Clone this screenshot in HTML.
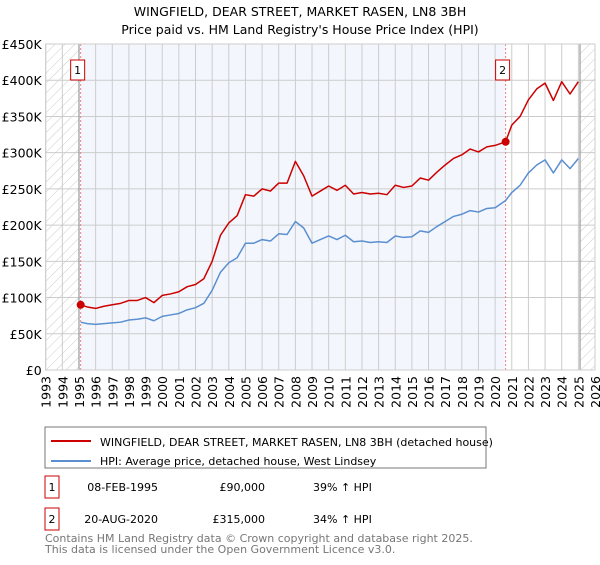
<!DOCTYPE html>
<html><head><meta charset="utf-8"><style>
body{margin:0;background:#fff;font-family:"Liberation Sans","DejaVu Sans",sans-serif;}
svg text{font-family:"DejaVu Sans","Liberation Sans",sans-serif;}
</style></head><body>
<svg id="c" width="600" height="560" viewBox="0 0 600 560" xmlns="http://www.w3.org/2000/svg">
<defs><pattern id="h" width="7" height="7" patternUnits="userSpaceOnUse" patternTransform="rotate(45)"><line x1="0" y1="0" x2="0" y2="7" stroke="#ccc" stroke-width="1"/></pattern></defs>
<text x="300" y="16" text-anchor="middle" font-size="12.5">WINGFIELD, DEAR STREET, MARKET RASEN, LN8 3BH</text>
<text x="300" y="34" text-anchor="middle" font-size="12.5">Price paid vs. HM Land Registry's House Price Index (HPI)</text>
<g id="plot"></g>
<rect x="45" y="427" width="441" height="41" fill="#fff" stroke="#777"/>
<line x1="51" y1="441" x2="91" y2="441" stroke="#cc0000" stroke-width="2"/>
<text x="100" y="446" font-size="11">WINGFIELD, DEAR STREET, MARKET RASEN, LN8 3BH (detached house)</text>
<line x1="51" y1="461" x2="91" y2="461" stroke="#5b8fd0" stroke-width="2"/>
<text x="100" y="465" font-size="11">HPI: Average price, detached house, West Lindsey</text>
<g font-size="11">
<rect x="45" y="476" width="14" height="22" fill="#fff" stroke="#cc0000"/>
<text x="52" y="491" text-anchor="middle">1</text>
<text x="158" y="491" text-anchor="end">08-FEB-1995</text>
<text x="265" y="491" text-anchor="end">£90,000</text>
<text x="313" y="491">39% ↑ HPI</text>
<rect x="45" y="508" width="14" height="22" fill="#fff" stroke="#cc0000"/>
<text x="52" y="523" text-anchor="middle">2</text>
<text x="158" y="523" text-anchor="end">20-AUG-2020</text>
<text x="265" y="523" text-anchor="end">£315,000</text>
<text x="313" y="523">34% ↑ HPI</text>
</g>
<text x="45" y="542" font-size="11" fill="#777">Contains HM Land Registry data © Crown copyright and database right 2025.</text>
<text x="45" y="553" font-size="11" fill="#777">This data is licensed under the Open Government Licence v3.0.</text>
</svg>
<script>
const yTicks=[0,50,100,150,200,250,300,350,400,450];
const yTickLabels=["£0","£50K","£100K","£150K","£200K","£250K","£300K","£350K","£400K","£450K"];
const years=[1993,1994,1995,1996,1997,1998,1999,2000,2001,2002,2003,2004,2005,2006,2007,2008,2009,2010,2011,2012,2013,2014,2015,2016,2017,2018,2019,2020,2021,2022,2023,2024,2025,2026];
const times=[1995.1,1995.5,1996,1996.5,1997,1997.5,1998,1998.5,1999,1999.5,2000,2000.5,2001,2001.5,2002,2002.5,2003,2003.5,2004,2004.5,2005,2005.5,2006,2006.5,2007,2007.5,2008,2008.5,2009,2009.5,2010,2010.5,2011,2011.5,2012,2012.5,2013,2013.5,2014,2014.5,2015,2015.5,2016,2016.5,2017,2017.5,2018,2018.5,2019,2019.5,2020,2020.63,2021,2021.5,2022,2022.5,2023,2023.5,2024,2024.5,2025];
const hpiValues=[66,64,63,64,65,66,69,70,72,68,74,76,78,83,86,92,110,135,148,155,175,175,180,178,188,187,205,196,175,180,185,180,186,177,178,176,177,176,185,183,184,192,190,198,205,212,215,220,218,223,224,234,245,255,272,283,290,272,290,278,292];
const priceValues=[90,87,85,88,90,92,96,96,100,93,103,105,108,115,118,126,150,186,203,213,242,240,250,247,258,258,288,268,240,247,254,248,255,243,245,243,244,242,255,252,254,265,262,273,283,292,297,305,301,308,310,315,338,350,373,388,396,372,398,381,398];
const sales=[{t:1995.1,v:90,n:"1"},{t:2020.63,v:315,n:"2"}];
const NS="http://www.w3.org/2000/svg";
const X0=45.7,X1=595,Y0=370,Y1=44;
const xs=t=>X0+(t-1993)*(X1-X0)/33;
const ys=v=>Y0-v*(Y0-Y1)/450;
const g=document.getElementById('plot');
function mk(tag,a){const e=document.createElementNS(NS,tag);for(const k in a)e.setAttribute(k,a[k]);g.appendChild(e);return e;}
let e;
e=mk('rect',{x:X0,y:Y1,width:X1-X0,height:Y0-Y1,fill:'#fff'});


e=mk('rect',{x:xs(1995.1),y:Y1,width:xs(2020.63)-xs(1995.1),height:Y0-Y1,fill:'#eef3fc',opacity:0.7});


e=mk('rect',{x:X0,y:Y1,width:xs(1995)-X0,height:Y0-Y1,fill:'url(#h)'});


e=mk('rect',{x:xs(2025.1),y:Y1,width:X1-xs(2025.1),height:Y0-Y1,fill:'url(#h)'});


yTicks.forEach((v,i)=>{
 e=mk('line',{x1:X0,x2:X1,y1:ys(v),y2:ys(v),stroke:'#ccc','stroke-width':1});
 
 
 e=mk('text',{x:X0-4,y:ys(v)+5,'text-anchor':'end','font-size':'12.5'});
 e.textContent=yTickLabels[i];
 
 
});
years.forEach(y=>{
 e=mk('line',{x1:xs(y),x2:xs(y),y1:Y1,y2:Y0,stroke:'#ccc','stroke-width':1});
 
 
 e=mk('text',{x:0,y:0,'font-size':'12.5','text-anchor':'end',transform:`translate(${xs(y)+5},${Y0+6}) rotate(-90)`});
 e.textContent=y;
 
 
});
e=mk('line',{x1:xs(1995),x2:xs(1995),y1:Y1,y2:Y0,stroke:'#999','stroke-width':1.2});


e=mk('line',{x1:xs(2025.1),x2:xs(2025.1),y1:Y1,y2:Y0,stroke:'#999','stroke-width':1.2});


sales.forEach(s=>{
 e=mk('line',{x1:xs(s.t),x2:xs(s.t),y1:Y1,y2:Y0,stroke:'#f08080','stroke-width':1,'stroke-dasharray':'2,2'});
 
 
});
function line(vals,color,name){
 e=mk('polyline',{points:times.map((t,i)=>xs(t)+','+ys(vals[i])).join(' '),fill:'none',stroke:color,'stroke-width':1.5,'stroke-linejoin':'round'});
 
 
}
line(hpiValues,'#5b8fd0','hpi-line');
line(priceValues,'#cc0000','price-line');
sales.forEach(s=>{
 e=mk('circle',{cx:xs(s.t),cy:ys(s.v),r:4,fill:'#cc0000'});
 
 
 e=mk('rect',{x:xs(s.t)-10,y:60,width:14,height:20,fill:'#fff',stroke:'#cc0000'});
 
 
 e=mk('text',{x:xs(s.t)-3,y:74,'text-anchor':'middle','font-size':'11'});
 e.textContent=s.n;
 
 
});
e=mk('rect',{x:X0,y:Y1,width:X1-X0,height:Y0-Y1,fill:'none',stroke:'#ccc'});


</script>
</body></html>
